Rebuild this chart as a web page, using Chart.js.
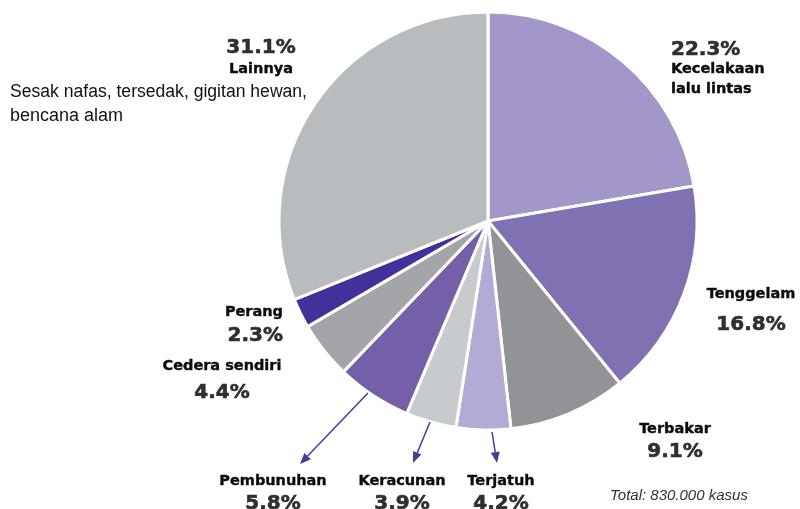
<!DOCTYPE html>
<html>
<head>
<meta charset="utf-8">
<script src="https://cdn.jsdelivr.net/npm/chart.js@4/dist/chart.umd.min.js"></script>
<style>
  html, body { margin: 0; padding: 0; background: #fff; }
  #wrap { width: 800px; height: 509px; }
</style>
</head>
<body>
<div id="wrap"><canvas id="pieChart" width="800" height="509"></canvas></div>
<script>
// Data (clockwise from 12 o'clock)
var categories = ['Kecelakaan lalu lintas', 'Tenggelam', 'Terbakar', 'Terjatuh', 'Keracunan',
                  'Pembunuhan', 'Cedera sendiri', 'Perang', 'Lainnya'];
var values = [22.3, 16.8, 9.1, 4.2, 3.9, 5.8, 4.4, 2.3, 31.1];
var sliceColors = ['#a396c9', '#8071b3', '#929396', '#b4aad6', '#c8cbce',
                   '#7360a9', '#a3a5a8', '#44309b', '#b9bcbf'];
var otherNote = ['Sesak nafas, tersedak, gigitan hewan,', 'bencana alam'];
var totalNote = 'Total: 830.000 kasus';

// Label placement (index into categories, text lines, anchor)
var labelLayout = [
    { i: 0, align: 'left',   x: 671, pctY: 55,  nameY: [73, 93], names: ['Kecelakaan', 'lalu lintas'] },
    { i: 1, align: 'center', x: 751, pctY: 330, nameY: [298] },
    { i: 2, align: 'center', x: 675, pctY: 457, nameY: [433] },
    { i: 3, align: 'center', x: 501, pctY: 509, nameY: [485] },
    { i: 4, align: 'center', x: 402, pctY: 509, nameY: [485] },
    { i: 5, align: 'center', x: 273, pctY: 509, nameY: [485] },
    { i: 6, align: 'center', x: 222, pctY: 398, nameY: [370] },
    { i: 7, align: 'right',  x: 283, pctY: 341, nameY: [316] },
    { i: 8, align: 'center', x: 261, pctY: 53,  nameY: [73] }
];

var arrows = [
    { from: [368, 393], to: [300, 464] },
    { from: [430, 422], to: [413, 463] },
    { from: [492, 432], to: [497, 463] }
];

var annotationPlugin = {
    id: 'annotations',
    afterDraw: function(chart) {
        var ctx = chart.ctx;
        ctx.save();

        // arrows
        ctx.strokeStyle = '#4a3a98';
        ctx.fillStyle = '#4a3a98';
        ctx.lineWidth = 1.5;
        arrows.forEach(function(a) {
            var dx = a.to[0] - a.from[0], dy = a.to[1] - a.from[1];
            var ang = Math.atan2(dy, dx);
            var head = 11;
            var bx = a.to[0] - head * Math.cos(ang), by = a.to[1] - head * Math.sin(ang);
            ctx.beginPath();
            ctx.moveTo(a.from[0], a.from[1]);
            ctx.lineTo(bx, by);
            ctx.stroke();
            ctx.beginPath();
            ctx.moveTo(a.to[0], a.to[1]);
            ctx.lineTo(bx + 4.5 * Math.sin(ang), by - 4.5 * Math.cos(ang));
            ctx.lineTo(bx - 4.5 * Math.sin(ang), by + 4.5 * Math.cos(ang));
            ctx.closePath();
            ctx.fill();
        });

        // slice labels
        ctx.textBaseline = 'alphabetic';
        ctx.lineJoin = 'round';
        labelLayout.forEach(function(l) {
            var names = l.names || [categories[l.i]];
            var pct = values[l.i].toFixed(1) + '%';
            ctx.textAlign = l.align;
            ctx.fillStyle = '#2f2f2f';
            ctx.strokeStyle = '#2f2f2f';
            ctx.lineWidth = 0.6;
            ctx.font = 'bold 20px "DejaVu Sans", Verdana, sans-serif';
            ctx.fillText(pct, l.x, l.pctY);
            ctx.strokeText(pct, l.x, l.pctY);
            ctx.fillStyle = '#0d0d0d';
            ctx.strokeStyle = '#0d0d0d';
            ctx.lineWidth = 0.4;
            ctx.font = 'bold 14.5px "DejaVu Sans", Verdana, sans-serif';
            names.forEach(function(n, k) {
                ctx.fillText(n, l.x, l.nameY[k]);
                ctx.strokeText(n, l.x, l.nameY[k]);
            });
        });

        // notes
        ctx.textAlign = 'left';
        ctx.fillStyle = '#111111';
        ctx.font = '18px "Liberation Sans", Arial, sans-serif';
        ctx.fillText(otherNote[0], 10, 97, 297);
        ctx.fillText(otherNote[1], 10, 121, 138);

        ctx.fillStyle = '#333333';
        ctx.font = 'italic 15px "Liberation Sans", Arial, sans-serif';
        ctx.fillText(totalNote, 610, 500, 138);

        ctx.restore();
    }
};

var ctx = document.getElementById('pieChart');
var myChart = new Chart(ctx, {
    type: 'pie',
    data: {
        labels: categories,
        datasets: [{
            data: values,
            backgroundColor: sliceColors,
            borderColor: '#ffffff',
            borderWidth: 3
        }]
    },
    options: {
        responsive: false,
        animation: false,
        radius: 209,
        layout: { padding: { left: 277, right: 101, top: 10, bottom: 77 } },
        plugins: {
            legend: { display: false },
            tooltip: { enabled: false }
        }
    },
    plugins: [annotationPlugin]
});
</script>
</body>
</html>
